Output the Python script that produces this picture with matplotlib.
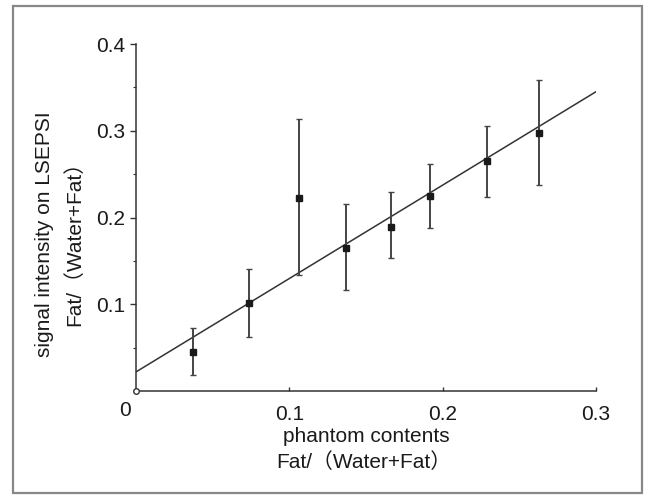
import matplotlib
matplotlib.use("Agg")
import matplotlib.pyplot as plt
from matplotlib.patches import Rectangle
from matplotlib.ticker import MultipleLocator
import numpy as np

plt.rcParams['font.family'] = ['Liberation Sans', 'Noto Sans CJK JP', 'DejaVu Sans']

# data
fat_fraction = [0.037, 0.074, 0.106, 0.137, 0.166, 0.192, 0.229, 0.263]
signal_mean = [0.045, 0.101, 0.223, 0.165, 0.189, 0.225, 0.265, 0.297]
signal_upper = [0.073, 0.141, 0.313, 0.215, 0.229, 0.262, 0.306, 0.358]
signal_lower = [0.019, 0.062, 0.134, 0.116, 0.153, 0.188, 0.224, 0.238]
fit_x = [0.0, 0.3]
fit_y = [0.022, 0.345]
x_ticks = [0.1, 0.2, 0.3]
x_ticklabels = ['0.1', '0.2', '0.3']
y_ticks = [0.1, 0.2, 0.3, 0.4]
y_ticklabels = ['0.1', '0.2', '0.3', '0.4']

FS = 15
TXT = '#1a1a1a'

fig = plt.figure(figsize=(6.46, 4.95), dpi=100)
W, H = 646, 495
ax = fig.add_axes([136 / W, 1 - 391 / H, (596 - 136) / W, (391 - 44) / H])

mean = np.array(signal_mean)
yerr = [mean - np.array(signal_lower), np.array(signal_upper) - mean]

ax.plot(fit_x, fit_y, color='#333333', lw=1.1, zorder=2)
ax.errorbar(fat_fraction, signal_mean, yerr=yerr, fmt='s', color='#1a1a1a',
            ecolor='#444444', elinewidth=1.4, capsize=2.5, capthick=1.0,
            markersize=4.5, zorder=3)

ax.set_xlim(0, 0.3)
ax.set_ylim(0, 0.4)
for s in ['top', 'right']:
    ax.spines[s].set_visible(False)
for s in ['left', 'bottom']:
    ax.spines[s].set_color('#333333')
    ax.spines[s].set_linewidth(1.1)

ax.set_xticks(x_ticks)
ax.set_xticklabels(x_ticklabels)
ax.set_yticks(y_ticks)
ax.set_yticklabels(y_ticklabels)
ax.yaxis.set_minor_locator(MultipleLocator(0.05))
ax.tick_params(axis='x', direction='in', length=3, width=1, colors='#333333',
               labelsize=FS, labelcolor=TXT, pad=10)
ax.tick_params(axis='y', which='major', direction='out', length=4, width=1,
               colors='#333333', labelsize=FS, labelcolor=TXT, pad=4)
ax.tick_params(axis='y', which='minor', direction='out', length=2.5, width=0.8,
               colors='#333333')

# origin label and marker
fig.text(125 / W, 1 - 410 / H, '0', ha='center', va='center',
         fontsize=FS, color=TXT)
ax.plot([0], [0], 'o', mfc='white', mec='#333333', ms=4, mew=1,
        clip_on=False, zorder=5)

# axis labels
fig.text(366 / W, 1 - 437 / H, 'phantom contents', ha='center', va='center',
         fontsize=FS, color=TXT)
fig.text(364 / W, 1 - 462 / H, 'Fat/（Water+Fat）', ha='center', va='center',
         fontsize=FS, color=TXT)
fig.text(45 / W, 1 - 234 / H, 'signal intensity on LSEPSI', ha='center',
         va='center', rotation=90, fontsize=FS, color=TXT)
fig.text(74 / W, 1 - 238 / H, 'Fat/（Water+Fat）', ha='center', va='center',
         rotation=90, fontsize=FS, color=TXT)

# outer frame
fig.patches.append(Rectangle((13 / W, 1 - 493 / H), (642 - 13) / W, (493 - 6) / H,
                             transform=fig.transFigure, fill=False,
                             edgecolor='#888888', lw=1.6))

fig.savefig('out.png', dpi=100)
